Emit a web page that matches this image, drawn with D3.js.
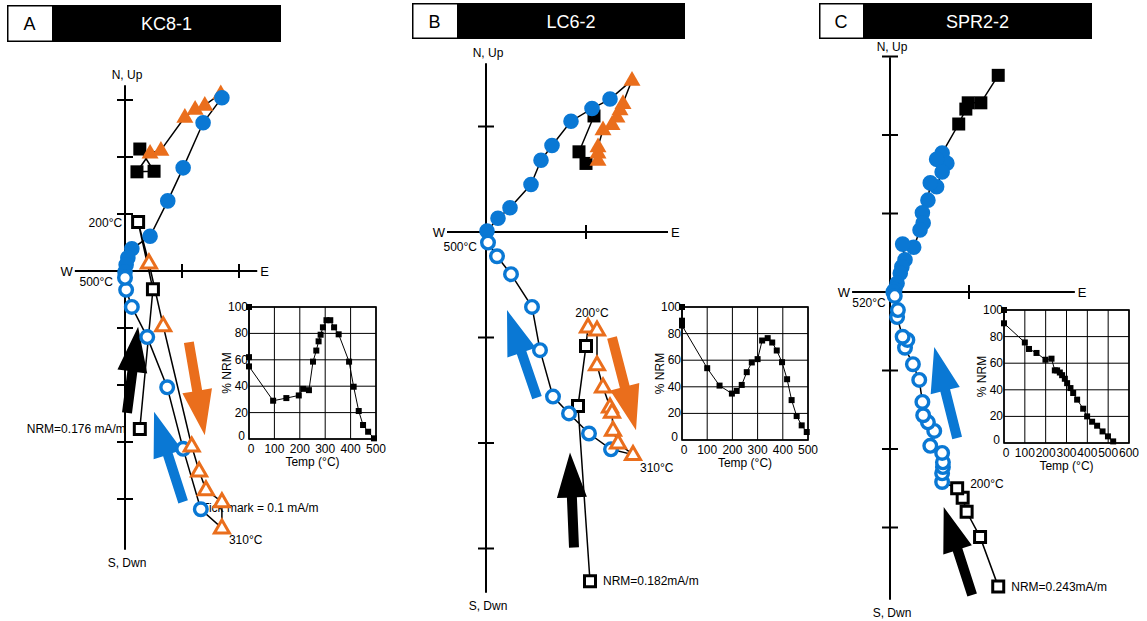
<!DOCTYPE html>
<html>
<head>
<meta charset="utf-8">
<script src="https://cdn.jsdelivr.net/npm/d3@7"></script>
<style>
  body { margin: 0; background: #fff; }
  svg { display: block; }
  text { font-family: "Liberation Sans", Arial, sans-serif; fill: #000; }
</style>
</head>
<body>
<svg id="fig" width="1147" height="621"></svg>
<script>
// ---------------------------------------------------------------------------
// Orthogonal (Zijderveld) vector end-point data, in mA/m.
// Horizontal projection: [East, North]; vertical projection: [East, Up].
// Squares: NRM to 200 °C, triangles: 200 to 310 °C, circles: 310 to 500+ °C.
// ---------------------------------------------------------------------------

// KC8-1
const kcHorizNrm  = [[0.026, 0.214], [0.051, 0.175], [0.021, 0.174]];
const kcHorizMid  = [[0.044, 0.207], [0.063, 0.212], [0.105, 0.270], [0.123, 0.284], [0.140, 0.291], [0.168, 0.311]];
const kcHorizHigh = [[0.170, 0.304], [0.137, 0.260], [0.102, 0.181], [0.075, 0.123], [0.044, 0.061], [0.012, 0.039], [0.005, 0.023], [0.002, 0.011], [0.000, -0.002]];
const kcVertNrm   = [[0.026, -0.277], [0.049, -0.032], [0.023, 0.086]];
const kcVertMid   = [[0.042, 0.014], [0.067, -0.096], [0.117, -0.307], [0.130, -0.351], [0.142, -0.384], [0.170, -0.405], [0.170, -0.451]];
const kcVertHigh  = [[0.133, -0.418], [0.102, -0.312], [0.074, -0.204], [0.039, -0.116], [0.012, -0.063], [0.002, -0.033], [0.000, -0.012]];

// LC6-2
const lcHorizNrm  = [[0.108, 0.110], [0.093, 0.076], [0.100, 0.065]];
const lcHorizMid  = [[0.112, 0.068], [0.112, 0.075], [0.112, 0.081], [0.117, 0.097], [0.126, 0.102], [0.131, 0.109], [0.134, 0.116], [0.137, 0.122], [0.146, 0.144]];
const lcHorizHigh = [[0.124, 0.126], [0.106, 0.117], [0.085, 0.105], [0.066, 0.082], [0.055, 0.068], [0.045, 0.045], [0.024, 0.023], [0.012, 0.013], [0.001, 0.001]];
const lcVertNrm   = [[0.104, -0.331], [0.092, -0.165], [0.100, -0.108]];
const lcVertMid   = [[0.102, -0.090], [0.111, -0.093], [0.111, -0.126], [0.117, -0.147], [0.124, -0.166], [0.126, -0.171], [0.127, -0.188], [0.132, -0.200], [0.147, -0.211]];
const lcVertHigh  = [[0.125, -0.206], [0.103, -0.191], [0.083, -0.172], [0.067, -0.156], [0.054, -0.112], [0.046, -0.071], [0.025, -0.040], [0.011, -0.023], [0.002, -0.010]];

// SPR2-2
const sprHorizNrm  = [[0.137, 0.276], [0.115, 0.241], [0.099, 0.241], [0.096, 0.233], [0.087, 0.214]];
const sprHorizHigh = [[0.066, 0.177], [0.072, 0.164], [0.059, 0.169], [0.066, 0.153], [0.059, 0.134], [0.051, 0.139], [0.048, 0.117], [0.041, 0.101], [0.042, 0.088], [0.038, 0.079], [0.030, 0.057], [0.016, 0.061], [0.019, 0.041], [0.015, 0.032], [0.013, 0.024], [0.009, 0.011], [0.006, 0.003], [0.004, 0.000]];
const sprVertNrm   = [[0.137, -0.375], [0.114, -0.312], [0.097, -0.280], [0.092, -0.262], [0.085, -0.250]];
const sprVertHigh  = [[0.066, -0.242], [0.066, -0.231], [0.067, -0.223], [0.067, -0.217], [0.066, -0.205], [0.051, -0.196], [0.056, -0.177], [0.048, -0.166], [0.042, -0.157], [0.041, -0.140], [0.037, -0.112], [0.029, -0.092], [0.019, -0.071], [0.022, -0.061], [0.016, -0.057], [0.009, -0.032], [0.010, -0.023], [0.006, -0.005]];

// Tick positions on the cross axes (mA/m)
const kcTicksE = [0.1, 0.2],  kcTicksU = [0.3, 0.2, 0.1, -0.1, -0.2, -0.3, -0.4];
const lcTicksE = [0.1],       lcTicksU = [0.1, -0.1, -0.2, -0.3];
const sprTicksE = [0.1],      sprTicksU = [0.3, 0.2, 0.1, -0.1, -0.2, -0.3];

// Remanence decay during thermal demagnetisation (temperature °C, % NRM)
const kcTemp  = [0, 0, 0, 95, 147, 196, 213, 236, 252, 265, 274, 282, 291, 305, 320, 335, 353, 394, 412, 432, 449, 469, 492];
const kcPct   = [100, 62, 55, 29, 31, 33, 38, 37, 58.6, 67, 74, 79, 84.6, 90, 90, 84.6, 79.3, 58.6, 39.6, 21.2, 10.6, 5.5, 0.5];
const lcTemp  = [0, 0, 0, 100, 149, 198, 217, 237, 257, 277, 300, 318, 340, 358, 376, 397, 417, 435, 455, 475, 495];
const lcPct   = [100, 89.7, 86.1, 54, 40.9, 34.9, 36.9, 41.4, 51, 58.3, 60.8, 74.8, 76.6, 73.3, 67.3, 58.5, 45.7, 30, 18, 11, 6];
const sprTemp = [0, 0, 100, 120, 156, 199, 228, 244, 255, 268, 279, 292, 303, 319, 332, 351, 380, 399, 423, 447, 473, 499, 524];
const sprPct  = [100, 90, 75.6, 70.7, 67.7, 62.6, 63.4, 54.6, 54.6, 53, 51, 48.3, 45, 41.3, 37.6, 32.6, 25.8, 20, 16, 13, 8.7, 5, 1.2];
const pctTicks = [0, 20, 40, 60, 80, 100];

// Direction-of-demagnetisation arrows, tail -> tip in mA/m
const kcArrows  = [{ c: "black", from: [0.0035, -0.249], to: [0.023, -0.098] },
                   { c: "orange", from: [0.112, -0.125], to: [0.140, -0.288] },
                   { c: "blue", from: [0.102, -0.405], to: [0.051, -0.247] }];
const lcArrows  = [{ c: "blue", from: [0.051, -0.157], to: [0.021, -0.074] },
                   { c: "orange", from: [0.126, -0.100], to: [0.150, -0.188] },
                   { c: "black", from: [0.088, -0.299], to: [0.084, -0.209] }];
const sprArrows = [{ c: "blue", from: [0.085, -0.186], to: [0.056, -0.070] },
                   { c: "black", from: [0.104, -0.386], to: [0.068, -0.274] }];

// ---------------------------------------------------------------------------
const COL = { blue: "#0a78d4", orange: "#ea6e1c", black: "#000" };
const svg = d3.select("#fig");

const panels = [
  {
    letter: "A", name: "KC8-1", title: [7, 52, 281, 5, 42],
    origin: [125, 271], tick: [57, 57], eRange: [-0.088, 0.232], uRange: [-0.489, 0.326],
    ticksE: kcTicksE, ticksU: kcTicksU,
    horiz: [kcHorizNrm, kcHorizMid, kcHorizHigh], vert: [kcVertNrm, kcVertMid, kcVertHigh],
    arrows: kcArrows,
    labels: [
      { at: kcVertNrm[2], text: "200°C", dx: -16, dy: 5, anchor: "end" },
      { at: kcVertHigh[6], text: "500°C", dx: -12, dy: 8, anchor: "end" },
      { at: kcVertMid[6], text: "310°C", dx: 7, dy: 16, anchor: "start" },
      { at: kcVertNrm[0], text: "NRM=0.176 mA/m", dx: -14, dy: 4, anchor: "end" }
    ],
    note: { text: "Tick mark = 0.1 mA/m", dx: 77, dy: 241 },
    inset: { box: [249, 376, 307, 439], tmax: 500, temp: kcTemp, pct: kcPct }
  },
  {
    letter: "B", name: "LC6-2", title: [412, 457, 685, 3, 39],
    origin: [486, 232], tick: [100, 105.5], eRange: [-0.039, 0.182], uRange: [-0.342, 0.160],
    ticksE: lcTicksE, ticksU: lcTicksU,
    horiz: [lcHorizNrm, lcHorizMid, lcHorizHigh], vert: [lcVertNrm, lcVertMid, lcVertHigh],
    arrows: lcArrows,
    labels: [
      { at: lcVertMid[0], text: "200°C", dx: 4, dy: -10, anchor: "middle" },
      { at: lcVertMid[8], text: "310°C", dx: 7, dy: 17, anchor: "start" },
      { at: lcVertHigh[8], text: "500°C", dx: -11, dy: 8, anchor: "end" },
      { at: lcVertNrm[0], text: "NRM=0.182mA/m", dx: 13, dy: 4, anchor: "start" }
    ],
    inset: { box: [682, 808, 307, 440], tmax: 500, temp: lcTemp, pct: lcPct }
  },
  {
    letter: "C", name: "SPR2-2", title: [819, 863, 1092, 3, 39],
    origin: [890, 292], tick: [79, 78.5], eRange: [-0.048, 0.234], uRange: [-0.392, 0.299],
    ticksE: sprTicksE, ticksU: sprTicksU,
    horiz: [sprHorizNrm, null, sprHorizHigh], vert: [sprVertNrm, null, sprVertHigh],
    arrows: sprArrows,
    labels: [
      { at: sprVertHigh[17], text: "520°C", dx: -9, dy: 11, anchor: "end" },
      { at: sprVertNrm[4], text: "200°C", dx: 13, dy: 0, anchor: "start" },
      { at: sprVertNrm[0], text: "NRM=0.243mA/m", dx: 13, dy: 5, anchor: "start" }
    ],
    inset: { box: [1004, 1129, 310, 443], tmax: 600, temp: sprTemp, pct: sprPct }
  }
];

function triPath(s) {
  const h = s * Math.sqrt(3) / 2;
  return `M0,${-h * 0.62}L${s / 2},${h * 0.38}L${-s / 2},${h * 0.38}Z`;
}

function arrowPoly(p0, p1, shaft, headW, headL) {
  const dx = p1[0] - p0[0], dy = p1[1] - p0[1];
  const L = Math.hypot(dx, dy), ux = dx / L, uy = dy / L, nx = -uy, ny = ux;
  const bx = p1[0] - ux * headL, by = p1[1] - uy * headL;
  return [
    [p0[0] + nx * shaft / 2, p0[1] + ny * shaft / 2],
    [bx + nx * shaft / 2, by + ny * shaft / 2],
    [bx + nx * headW / 2, by + ny * headW / 2],
    p1,
    [bx - nx * headW / 2, by - ny * headW / 2],
    [bx - nx * shaft / 2, by - ny * shaft / 2],
    [p0[0] - nx * shaft / 2, p0[1] - ny * shaft / 2]
  ];
}

panels.forEach(P => {
  const g = svg.append("g");
  const [ox, oy] = P.origin;
  const x = d3.scaleLinear().domain([0, 0.1]).range([ox, ox + P.tick[0]]);
  const y = d3.scaleLinear().domain([0, 0.1]).range([oy, oy - P.tick[1]]);

  // Title bar
  const [tx0, tx1, tx2, ty0, ty1] = P.title;
  g.append("rect").attr("x", tx0).attr("y", ty0).attr("width", tx2 - tx0).attr("height", ty1 - ty0)
    .attr("fill", "#000");
  g.append("rect").attr("x", tx0 + 1.5).attr("y", ty0 + 1.5).attr("width", tx1 - tx0 - 1.5).attr("height", ty1 - ty0 - 3)
    .attr("fill", "#fff");
  g.append("text").attr("x", (tx0 + tx1) / 2).attr("y", (ty0 + ty1) / 2 + 6.5).attr("text-anchor", "middle")
    .attr("font-size", 18).text(P.letter);
  g.append("text").attr("x", (tx1 + tx2) / 2).attr("y", (ty0 + ty1) / 2 + 6.5).attr("text-anchor", "middle")
    .attr("font-size", 18).style("fill", "#fff").text(P.name);

  // Cross axes
  const ax = g.append("g").attr("stroke", "#000").attr("stroke-width", 2);
  ax.append("line").attr("x1", x(P.eRange[0])).attr("x2", x(P.eRange[1])).attr("y1", oy).attr("y2", oy);
  ax.append("line").attr("x1", ox).attr("x2", ox).attr("y1", y(P.uRange[1])).attr("y2", y(P.uRange[0]));
  P.ticksE.forEach(t => ax.append("line").attr("x1", x(t)).attr("x2", x(t)).attr("y1", oy - 7).attr("y2", oy + 7));
  P.ticksU.forEach(t => ax.append("line").attr("x1", ox - 8).attr("x2", ox + 8).attr("y1", y(t)).attr("y2", y(t)));

  g.append("text").attr("x", ox + 2).attr("y", y(P.uRange[1]) - 6).attr("text-anchor", "middle")
    .attr("font-size", 12).text("N, Up");
  g.append("text").attr("x", ox + 2).attr("y", y(P.uRange[0]) + 17).attr("text-anchor", "middle")
    .attr("font-size", 12).text("S, Dwn");
  g.append("text").attr("x", x(P.eRange[0]) - 2).attr("y", oy + 5).attr("text-anchor", "end")
    .attr("font-size", 13).text("W");
  g.append("text").attr("x", x(P.eRange[1]) + 3).attr("y", oy + 5).attr("text-anchor", "start")
    .attr("font-size", 13).text("E");

  // Annotation note (drawn under the symbols)
  if (P.note) {
    g.append("text").attr("x", ox + P.note.dx).attr("y", oy + P.note.dy).attr("font-size", 12).text(P.note.text);
  }

  // Demagnetisation direction arrows
  P.arrows.forEach(a => {
    const pts = arrowPoly([x(a.from[0]), y(a.from[1])], [x(a.to[0]), y(a.to[1])], 10, 30, 45);
    g.append("polygon").attr("points", pts.map(p => p.join(",")).join(" ")).attr("fill", COL[a.c]);
  });

  // Connecting lines for each projection
  const line = d3.line().x(d => x(d[0])).y(d => y(d[1]));
  [P.horiz, P.vert].forEach(set => {
    const all = set.filter(Boolean).flat();
    g.append("path").attr("d", line(all)).attr("fill", "none").attr("stroke", "#000").attr("stroke-width", 1.5);
  });

  // Symbols
  const drawSet = (pts, kind, filled) => {
    if (!pts) return;
    const sel = g.append("g").selectAll("path").data(pts).join("path")
      .attr("transform", d => `translate(${x(d[0])},${y(d[1])})`);
    if (kind === "sq") {
      const s = filled ? 13 : 11;
      sel.attr("d", `M${-s / 2},${-s / 2}h${s}v${s}h${-s}Z`)
        .attr("fill", filled ? "#000" : "#fff").attr("stroke", "#000").attr("stroke-width", filled ? 0 : 3);
    } else if (kind === "tri") {
      sel.attr("d", triPath(filled ? 17 : 15))
        .attr("fill", filled ? COL.orange : "#fff").attr("stroke", COL.orange)
        .attr("stroke-width", filled ? 0 : 3).attr("stroke-linejoin", "miter");
    } else {
      sel.attr("d", filled ? d3.arc()({ innerRadius: 0, outerRadius: 7.8, startAngle: 0, endAngle: 2 * Math.PI })
                           : d3.arc()({ innerRadius: 0, outerRadius: 6.3, startAngle: 0, endAngle: 2 * Math.PI }))
        .attr("fill", filled ? COL.blue : "#fff").attr("stroke", COL.blue).attr("stroke-width", filled ? 0 : 3.4);
    }
  };
  drawSet(P.horiz[0], "sq", true);
  drawSet(P.horiz[1], "tri", true);
  drawSet(P.horiz[2], "cir", true);
  drawSet(P.vert[0], "sq", false);
  drawSet(P.vert[2], "cir", false);
  drawSet(P.vert[1], "tri", false);

  // Step labels
  P.labels.forEach(l => {
    g.append("text").attr("x", x(l.at[0]) + l.dx).attr("y", y(l.at[1]) + l.dy)
      .attr("text-anchor", l.anchor).attr("font-size", 12).text(l.text);
  });

  // Inset: % NRM versus temperature
  const I = P.inset;
  const [bx0, bx1, by0, by1] = I.box;
  const ix = d3.scaleLinear().domain([0, I.tmax]).range([bx0, bx1]);
  const iy = d3.scaleLinear().domain([0, 100]).range([by1, by0]);
  const ig = g.append("g");
  ig.append("rect").attr("x", bx0).attr("y", by0).attr("width", bx1 - bx0).attr("height", by1 - by0).attr("fill", "#fff");
  const tTicks = d3.range(0, I.tmax + 1, 100);
  ig.selectAll("line.v").data(tTicks).join("line").attr("class", "v")
    .attr("x1", d => ix(d)).attr("x2", d => ix(d)).attr("y1", by0).attr("y2", by1)
    .attr("stroke", "#000").attr("stroke-width", 1);
  ig.selectAll("line.h").data(pctTicks).join("line").attr("class", "h")
    .attr("x1", bx0).attr("x2", bx1).attr("y1", d => iy(d)).attr("y2", d => iy(d))
    .attr("stroke", "#000").attr("stroke-width", 1);
  ig.append("rect").attr("x", bx0).attr("y", by0).attr("width", bx1 - bx0).attr("height", by1 - by0)
    .attr("fill", "none").attr("stroke", "#000").attr("stroke-width", 1.6);
  ig.selectAll("text.xt").data(tTicks).join("text").attr("class", "xt")
    .attr("x", d => ix(d) + (d === 0 ? 2 : 0)).attr("y", by1 + 14).attr("text-anchor", "middle")
    .attr("font-size", 12).text(d => d);
  ig.selectAll("text.yt").data(pctTicks).join("text").attr("class", "yt")
    .attr("x", d => bx0 - (d === 0 ? 4 : 1)).attr("y", d => iy(d) + 4 - (d === 0 ? 3 : 0)).attr("text-anchor", "end")
    .attr("font-size", 12).text(d => d);
  ig.append("text").attr("transform", `translate(${bx0 - 18},${(by0 + by1) / 2}) rotate(-90)`)
    .attr("text-anchor", "middle").attr("font-size", 12).text("% NRM");
  ig.append("text").attr("x", (bx0 + bx1) / 2).attr("y", by1 + 27).attr("text-anchor", "middle")
    .attr("font-size", 12).text("Temp (°C)");
  const pts = I.temp.map((t, i) => [t, I.pct[i]]);
  ig.append("path").attr("d", d3.line().x(d => ix(d[0])).y(d => iy(d[1]))(pts))
    .attr("fill", "none").attr("stroke", "#000").attr("stroke-width", 1);
  ig.selectAll("rect.pt").data(pts).join("rect").attr("class", "pt")
    .attr("x", d => ix(d[0]) - 3).attr("y", d => iy(d[1]) - 3).attr("width", 6).attr("height", 6).attr("fill", "#000");
});
</script>
</body>
</html>
